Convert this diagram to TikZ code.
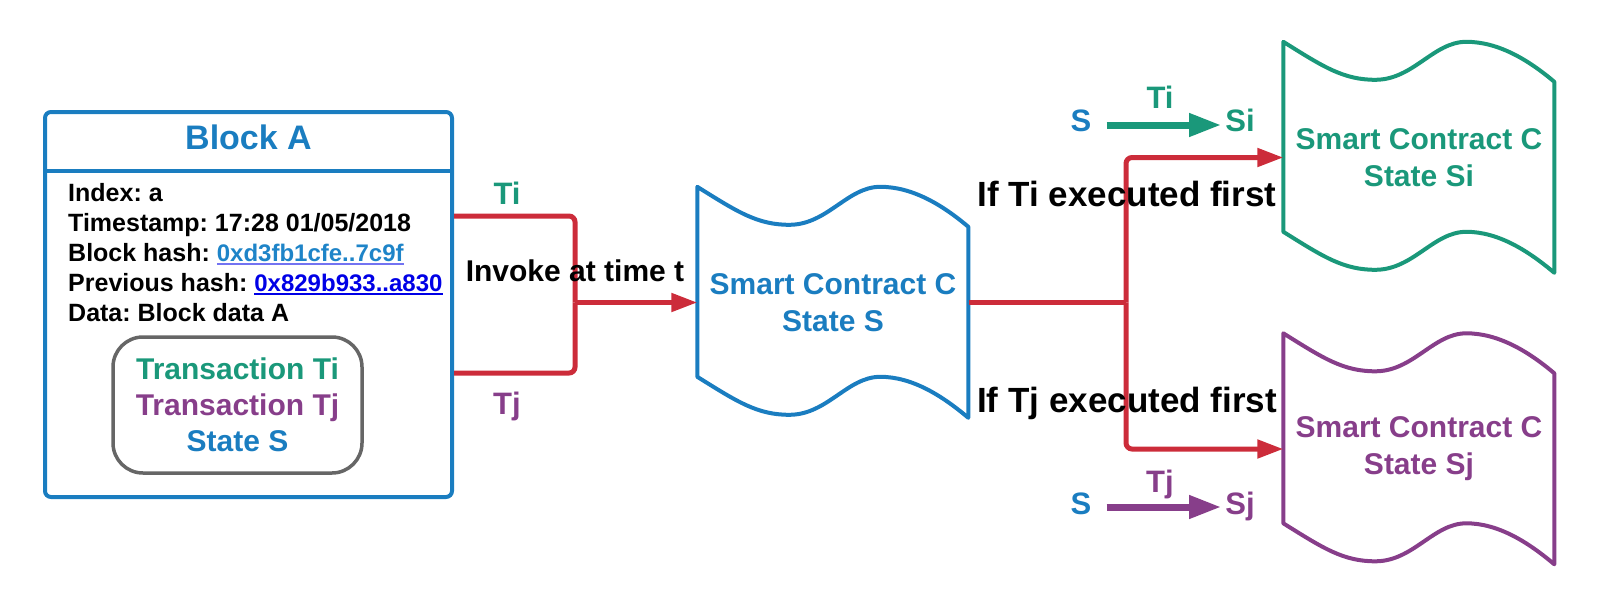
\documentclass[tikz,border=0pt]{standalone}
\usepackage{fontspec}
\setmainfont{Liberation Sans}
\usetikzlibrary{arrows.meta}
\frenchspacing

\definecolor{cblue}{HTML}{1A7DC0}
\definecolor{cgreen}{HTML}{1A987A}
\definecolor{cpurple}{HTML}{873E8A}
\definecolor{cred}{HTML}{CC2C3A}
\definecolor{cgray}{HTML}{666666}
\definecolor{linkblue}{HTML}{1E84C8}
\definecolor{linkline}{HTML}{7373F2}
\definecolor{linkdeep}{HTML}{0000E6}

\newcommand{\tapeoutline}[2]{%
  \begin{scope}[shift={(#1.north west)}]
    \draw[#2, line width=4pt, line join=round]
      (0,0) .. controls (40,25) and (60,38) .. (92,38)
      .. controls (130,38) and (150,0) .. (183,0)
      .. controls (215,0) and (245,18) .. (271,40)
      -- (271,231)
      .. controls (245,209) and (215,190) .. (183,190)
      .. controls (150,190) and (130,228) .. (92,228)
      .. controls (60,228) and (40,215) .. (0,190) -- cycle;
  \end{scope}}
\newsavebox{\hashbox}
\newcommand{\hashlink}[3]{\sbox{\hashbox}{\fontsize{24}{30}\selectfont\textcolor{#1}{#3}}%
  \rlap{\textcolor{#2}{\rule[-3.5pt]{\wd\hashbox}{1.8pt}}}\usebox{\hashbox}}

\begin{document}
\begin{tikzpicture}[x=1pt, y=-1pt,
  font=\bfseries,
  block/.style={draw=cblue, line width=4pt, rounded corners=6pt, minimum width=407pt, minimum height=385pt, inner sep=0pt},
  info/.style={align=left, inner sep=0pt, font=\fontsize{25}{30}\selectfont\bfseries},
  txbox/.style={draw=cgray, line width=3.5pt, rounded corners=30pt, minimum width=249pt, minimum height=136pt, align=center, font=\fontsize{30}{36}\selectfont\bfseries},
  tape/.style={minimum width=271pt, minimum height=231pt, inner sep=0pt, align=center, font=\fontsize{30}{37}\selectfont\bfseries},
  lbl/.style={inner sep=0pt, text height=22pt, text depth=0pt, font=\fontsize{31}{36}\selectfont\bfseries},
  cond/.style={inner sep=0pt, text height=25pt, text depth=0pt, font=\fontsize{35}{42}\selectfont\bfseries},
  redline/.style={draw=cred, line width=5pt, rounded corners=6pt},
  redarrow/.style={redline, -{Triangle[length=26pt, width=18pt]}},
  steparrow/.style={line width=7pt, -{Triangle[length=32pt, width=22pt]}}
]
\useasboundingbox (0,0) rectangle (1600,608);

\node[block] (blockA) at (248.5,304.5) {};
\node[font=\fontsize{34}{40}\selectfont\bfseries, text=cblue] (title) at (248.5,137) {Block A};
\draw[cblue, line width=4pt] (blockA.west |- 0,171) -- (blockA.east |- 0,171);
\node[info, anchor=north west] (meta) at (68,183)
  {Index: a\\Timestamp: 17:28 01/05/2018\\Block hash: \hashlink{linkblue}{linkline}{0xd3fb1cfe..7c9f}\\Previous hash: \hashlink{linkdeep}{linkdeep}{0x829b933..a830}\\Data: Block data A};
\node[txbox] (txs) at (237.5,405)
  {\textcolor{cgreen}{Transaction Ti}\\\textcolor{cpurple}{Transaction Tj}\\\textcolor{cblue}{State S}};

\node[tape, text=cblue] (contS) at (833,302.5) {Smart Contract C\\State S};
\tapeoutline{contS}{cblue}
\node[tape, text=cgreen] (contSi) at (1419,157.5) {Smart Contract C\\State Si};
\tapeoutline{contSi}{cgreen}
\node[tape, text=cpurple] (contSj) at (1419,449) {Smart Contract C\\State Sj};
\tapeoutline{contSj}{cpurple}

\coordinate (join) at (575,302.5);
\draw[redline] ([yshift=88.5pt]blockA.east) -| (join);
\draw[redline] ([yshift=-68.5pt]blockA.east) -| (join);
\draw[redarrow] (join) -- (contS);

\coordinate (split) at (1126,302.5);
\draw[redline] (contS) -- (split);
\draw[redarrow] (split) |- (contSi);
\draw[redarrow] (split) |- (contSj);

\node[lbl, text=cgreen] (tiIn) at (507,193) {Ti};
\node[lbl, text=cpurple] (tjIn) at (507,403) {Tj};
\node[lbl, font=\fontsize{30}{36}\selectfont\bfseries] (invoke) at (575,270) {Invoke at time t};
\node[cond] (ifTi) at (1127,194) {If Ti executed first};
\node[cond] (ifTj) at (1127,400) {If Tj executed first};

\node[lbl, text=cblue] (sTop) at (1081,120) {S};
\node[lbl, text=cgreen] (siTop) at (1240,120) {Si};
\node[lbl, text=cgreen] (tiTop) at (1160,97) {Ti};
\draw[steparrow, cgreen] ([xshift=15pt, yshift=-5pt]sTop.east) -- ([xshift=-4pt, yshift=-5pt]siTop.west);

\node[lbl, text=cblue] (sBot) at (1081,503) {S};
\node[lbl, text=cpurple] (sjBot) at (1240,503) {Sj};
\node[lbl, text=cpurple] (tjBot) at (1160,481) {Tj};
\draw[steparrow, cpurple] ([xshift=15pt, yshift=-4pt]sBot.east) -- ([xshift=-4pt, yshift=-4pt]sjBot.west);

\end{tikzpicture}
\end{document}
